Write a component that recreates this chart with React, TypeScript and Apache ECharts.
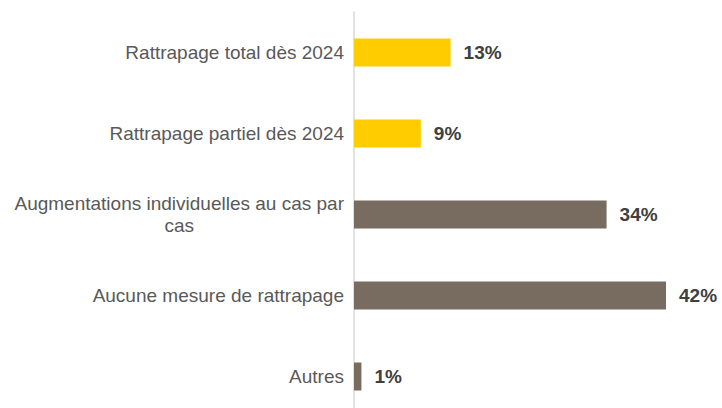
import React, { useEffect, useRef } from "react";
import * as echarts from "echarts";

const categories = [
  "Rattrapage total dès 2024",
  "Rattrapage partiel dès 2024",
  "Augmentations individuelles au cas par\ncas",
  "Aucune mesure de rattrapage",
  "Autres",
];
const values = [13, 9, 34, 42, 1];
const barColors = ["#FFCC00", "#FFCC00", "#786C60", "#786C60", "#786C60"];

export default function App() {
  const ref = useRef<HTMLDivElement>(null);
  useEffect(() => {
    if (!ref.current) return;
    const chart = echarts.init(ref.current, undefined, { renderer: "svg" });
    chart.setOption({
      animation: false,
      backgroundColor: "#ffffff",
      grid: { left: 354, right: 56, top: 12, bottom: 0, containLabel: false },
      xAxis: {
        type: "value",
        min: 0,
        max: 42,
        show: false,
      },
      yAxis: {
        type: "category",
        inverse: true,
        data: categories,
        axisLine: { show: true, lineStyle: { color: "#D9D9D9", width: 1.5 } },
        axisTick: { show: false },
        axisLabel: {
          margin: 10,
          color: "#595959",
          fontFamily: "Liberation Sans",
          fontSize: 19,
          lineHeight: 22,
          align: "right",
          formatter: (v: string) =>
            v
              .split("\n")
              .map((l) => `{c|${l}}`)
              .join("\n"),
          rich: {
            c: {
              align: "center",
              color: "#595959",
              fontFamily: "Liberation Sans",
              fontSize: 19,
              lineHeight: 22,
            },
          },
        },
      },
      series: [
        {
          type: "bar",
          barWidth: 28,
          data: values.map((v, i) => ({
            value: v,
            itemStyle: { color: barColors[i] },
          })),
          label: {
            show: true,
            position: "right",
            distance: 13,
            formatter: "{c}%",
            color: "#404040",
            fontFamily: "Liberation Sans",
            fontWeight: "bold",
            fontSize: 19,
          },
        },
      ],
    });
    return () => chart.dispose();
  }, []);
  return (
    <div
      ref={ref}
      style={{ position: "fixed", left: 0, top: 0, width: 722, height: 417 }}
    />
  );
}
